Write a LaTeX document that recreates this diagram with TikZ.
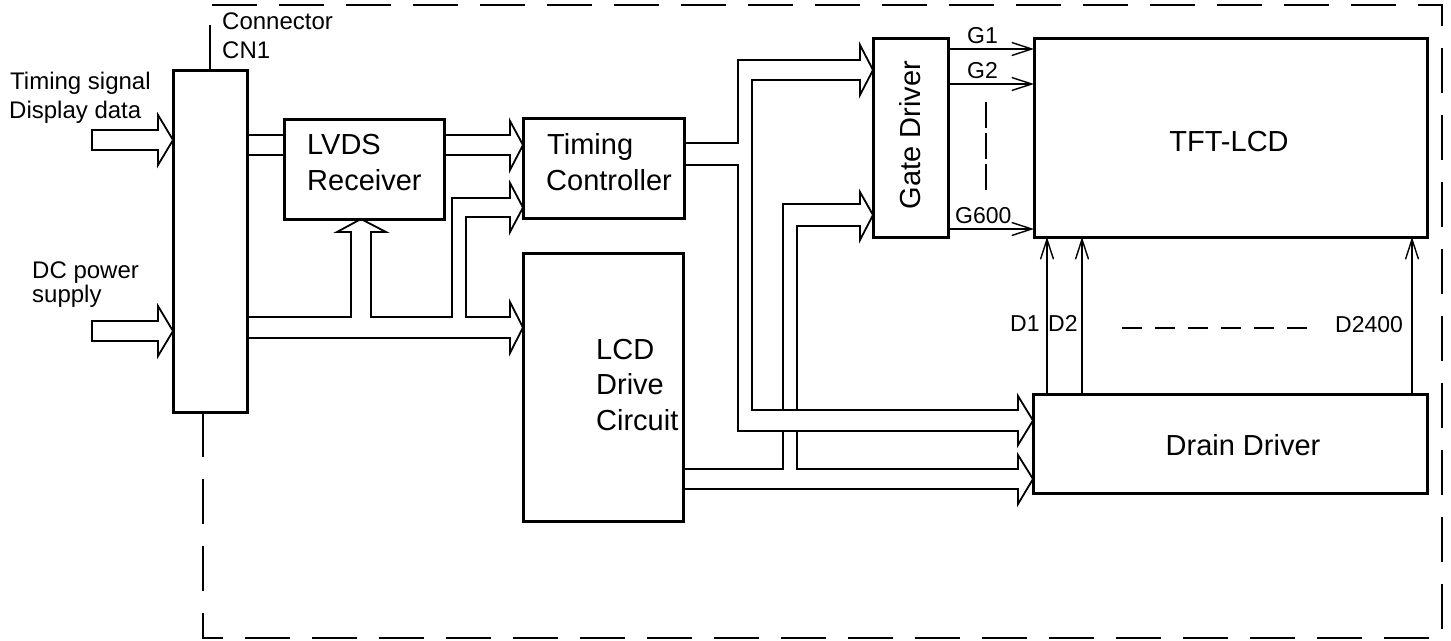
\documentclass[tikz,border=0pt]{standalone}
\usepackage{fontspec}
\setmainfont{Liberation Sans}
\usetikzlibrary{arrows.meta,backgrounds}
\tikzset{blk/.style={draw,line width=3pt,inner sep=0pt,outer sep=0pt},
 bus/.style={draw,fill=white,line width=1.8pt,line join=miter},
 sig/.style={line width=1.4pt,-{Straight Barb[length=20pt,width=13pt]}},
 frame/.style={line width=1.8pt,dash pattern=on 45pt off 22pt},
 big/.style={font=\fontsize{29}{35}\selectfont,inner sep=0pt},
 sml/.style={font=\fontsize{24}{29}\selectfont,inner sep=0pt,anchor=base west},
 lbl/.style={font=\fontsize{23}{27}\selectfont,inner sep=0pt,anchor=base west}}
\begin{document}
\begin{tikzpicture}[x=1pt,y=-1pt]
\useasboundingbox (0,0) rectangle (1451,640);
% blocks
\node[blk,minimum width=74pt,minimum height=342pt] (cn1) at (210,241) {};
\node[blk,minimum width=160pt,minimum height=100pt] (lvds) at (364,169) {};
\node[blk,minimum width=161pt,minimum height=100pt] (tc) at (603.5,168) {};
\node[blk,minimum width=160pt,minimum height=268pt] (lcd) at (603,387) {};
\node[blk,minimum width=75pt,minimum height=199pt] (gate) at (910.5,137.5) {};
\node[blk,minimum width=393pt,minimum height=199pt] (tft) at (1230.5,137.5) {};
\node[blk,minimum width=394pt,minimum height=99pt] (drain) at (1230,443.5) {};
% texts
\node[sml] (ts) at (10,89) {Timing signal};\node[sml] (dd) at (9,118) {Display data};
\node[sml] (dc) at (32,278) {DC power};\node[sml] (sp) at (32,302) {supply};
\node[sml] (con) at (222,29) {Connector};\node[sml] (cnt) at (222,58) {CN1};
\node[big,anchor=base west] (lv1) at (307,154) {LVDS};\node[big,anchor=base west] (lv2) at (307,190) {Receiver};
\node[big,anchor=base west] (tc1) at (547,154) {Timing};\node[big,anchor=base west] (tc2) at (546,190) {Controller};
\node[big,anchor=base west] (ld1) at (596,359) {LCD};\node[big,anchor=base west] (ld2) at (596,394) {Drive};
\node[big,anchor=base west] (ld3) at (596,430) {Circuit};
\node[big,rotate=90] (gtxt) at (910,135) {Gate Driver};
\node[big] (ttxt) at (1229,142) {TFT-LCD};
\node[big] (dtxt) at (1243,445) {Drain Driver};
\node[lbl] (g1) at (967,43) {G1};\node[lbl] (g2) at (967,78) {G2};\node[lbl] (g600) at (955,223) {G600};
\node[lbl] (d1) at (1010,331) {D1};\node[lbl] (d2) at (1048,331) {D2};\node[lbl] (d2400) at (1335,332) {D2400};
% buses
\begin{scope}[on background layer]
\draw[bus] (cn1.west|-0,140) -- (158,115) -- (158,130) -- (92,130) -- (92,150) -- (158,150) -- (158,165) -- cycle;
\draw[bus] (cn1.west|-0,331) -- (158,306) -- (158,321) -- (92,321) -- (92,341) -- (158,341) -- (158,356) -- cycle;
\draw[bus] (cn1.east|-0,135) -- (lvds.west|-0,135) (lvds.west|-0,155) -- (cn1.east|-0,155);
\draw[bus] (lvds.east|-0,135) -- (510,135) -- (510,121) -- (tc.west|-0,145) -- (510,170) -- (510,155) -- (lvds.east|-0,155);
\draw[bus] (cn1.east|-0,317) -- (351,317) -- (351,232) -- (337,232) -- (lvds.south-|361,0) -- (386,232) -- (371,232)
 -- (371,317) -- (452,317) -- (452,198) -- (510,198) -- (510,183) -- (tc.west|-0,207.5) -- (510,232) -- (510,217)
 -- (466,217) -- (466,317) -- (510,317) -- (510,302) -- (lcd.west|-0,327.5) -- (510,353) -- (510,338) -- (cn1.east|-0,338);
\draw[bus] (lcd.east|-0,469) -- (783,469) -- (783,204) -- (860,204) -- (860,192) -- (gate.west|-0,215) -- (860,240)
 -- (860,226) -- (797,226) -- (797,469) -- (1018,469) -- (1018,455) -- (drain.west|-0,479) -- (1018,504) -- (1018,489)
 -- (lcd.east|-0,489);
\draw[bus] (tc.east|-0,143) -- (738,143) -- (738,60) -- (860,60) -- (860,45) -- (gate.west|-0,70) -- (860,95) -- (860,80)
 -- (752,80) -- (752,410) -- (1018,410) -- (1018,396) -- (drain.west|-0,420.5) -- (1018,445) -- (1018,431) -- (738,431)
 -- (738,165) -- (tc.east|-0,165);
\end{scope}
% gate and drain lines
\draw[sig] (gate.east|-0,49) -- (tft.west|-0,49);\draw[sig] (gate.east|-0,84) -- (tft.west|-0,84);
\draw[sig] (gate.east|-0,229) -- (tft.west|-0,229);
\draw[line width=1.4pt,dash pattern=on 26pt off 5pt] (986,102) -- (986,192);
\draw[sig] (drain.north-|1047,0) -- (tft.south-|1047,0);\draw[sig] (drain.north-|1082,0) -- (tft.south-|1082,0);
\draw[sig] (drain.north-|1412,0) -- (tft.south-|1412,0);
\draw[line width=1.4pt,dash pattern=on 20pt off 13pt] (1122,328) -- (1314,328);
% connector outline
\draw[frame] (cn1.north-|210,0) -- (210,5) -- (1442,5) -- (1442,638) -- (203,638) -- (cn1.south-|203,0);
\end{tikzpicture}
\end{document}
